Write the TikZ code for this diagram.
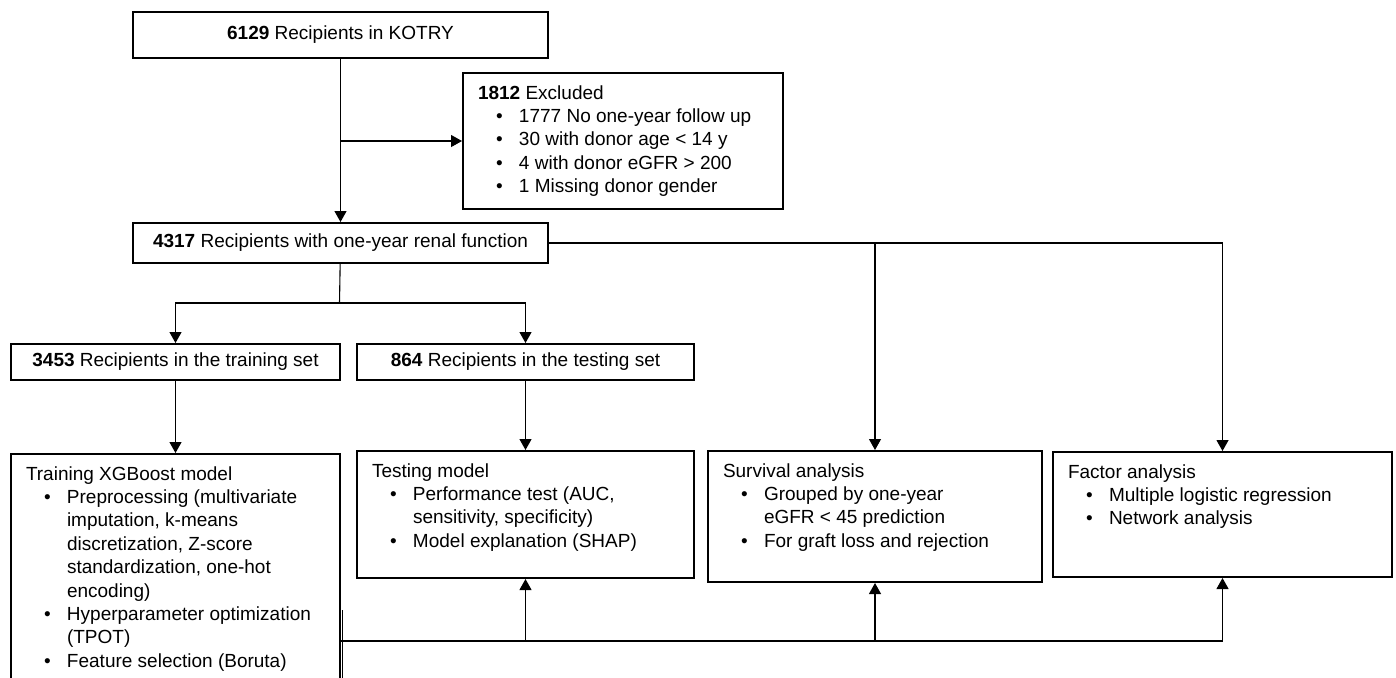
\documentclass[tikz,border=0pt]{standalone}
\usepackage{fontspec}
\setmainfont{Liberation Sans}
\usetikzlibrary{arrows.meta}

% top aligned text inside a fixed box
\newcommand{\boxtxt}[3]{\vbox to #2{\hsize=#1\parindent=0pt\parskip=0pt\raggedright\leftskip=7.5pt
  \noindent\rule{0pt}{13pt}#3\par\vfil}}
\newcommand{\bul}{\par\noindent\hangindent=20.5pt\hangafter=0\llap{\makebox[11.5pt][l]{\textbullet}}}

\begin{document}
\begin{tikzpicture}[x=0.5pt, y=-0.5pt,
    txt/.style={font=\fontsize{9.5}{11.7}\selectfont},
    hbox/.style={txt, draw, line width=1pt, inner sep=0pt, anchor=north west},
    cbox/.style={txt, draw, line width=1pt, inner sep=0pt, anchor=north west},
    line/.style={line width=0.55pt},
    arr/.style={line, -{Triangle[length=5.5pt,width=6pt]}}]
    \useasboundingbox (0,0) rectangle (1396,677);

    \node[hbox, minimum width=207.5pt, minimum height=23pt] (top) at (132,11) {\textbf{6129} Recipients in KOTRY};
    \node[cbox] (excl) at (462,72) {\boxtxt{160pt}{68pt}{\textbf{1812} Excluded
      \bul 1777 No one-year follow up
      \bul 30 with donor age < 14 y
      \bul 4 with donor eGFR > 200
      \bul 1 Missing donor gender}};
    \node[hbox, minimum width=207.5pt, minimum height=20pt] (mid) at (132,222) {\textbf{4317} Recipients with one-year renal function};

    \node[hbox, minimum width=164.5pt, minimum height=18pt] (trset) at (10,343) {\textbf{3453} Recipients in the training set};
    \node[hbox, minimum width=168.5pt, minimum height=18pt] (teset) at (356,343) {\textbf{864} Recipients in the testing set};

    \node[cbox] (train) at (10,453) {\boxtxt{164.5pt}{120pt}{Training XGBoost model
      \bul Preprocessing (multivariate\newline imputation, k-means\newline discretization, Z-score\newline standardization, one-hot\newline encoding)
      \bul Hyperparameter optimization\newline (TPOT)
      \bul Feature selection (Boruta)}};
    \node[cbox] (test) at (356,450) {\boxtxt{168.5pt}{63.5pt}{Testing model
      \bul Performance test (AUC,\newline sensitivity, specificity)
      \bul Model explanation (SHAP)}};
    \node[cbox] (surv) at (707,450) {\boxtxt{167pt}{65.5pt}{Survival analysis
      \bul Grouped by one-year\newline eGFR < 45 prediction
      \bul For graft loss and rejection}};
    \node[cbox] (factor) at (1052,451) {\boxtxt{169.5pt}{62.5pt}{Factor analysis
      \bul Multiple logistic regression
      \bul Network analysis}};

    % flow
    \draw[arr] (top) -- (mid);
    \draw[arr] (top.south |- excl.west) -- (excl.west);
    \coordinate (split) at (339.5,303);
    \draw[line] (mid) -- (split);
    \draw[arr] (split) -| (trset);
    \draw[arr] (split) -| (teset);
    \draw[arr] (trset) -- (train);
    \draw[arr] (teset) -- (test);
    \draw[arr] (mid.east) -| (factor);
    \draw[arr] (mid.east -| surv.north) -- (surv.north);

    % results back to the analyses
    \coordinate (bus) at (1221.5,641);
    \draw[line] ([xshift=0.9pt]train.east |- 0,610) -- ([xshift=0.9pt]train.east |- 0,690);
    \draw[arr] (train.east |- bus) -| (factor.south);
    \draw[arr] (test.south |- bus) -- (test.south);
    \draw[arr] (surv.south |- bus) -- (surv.south);
\end{tikzpicture}
\end{document}
